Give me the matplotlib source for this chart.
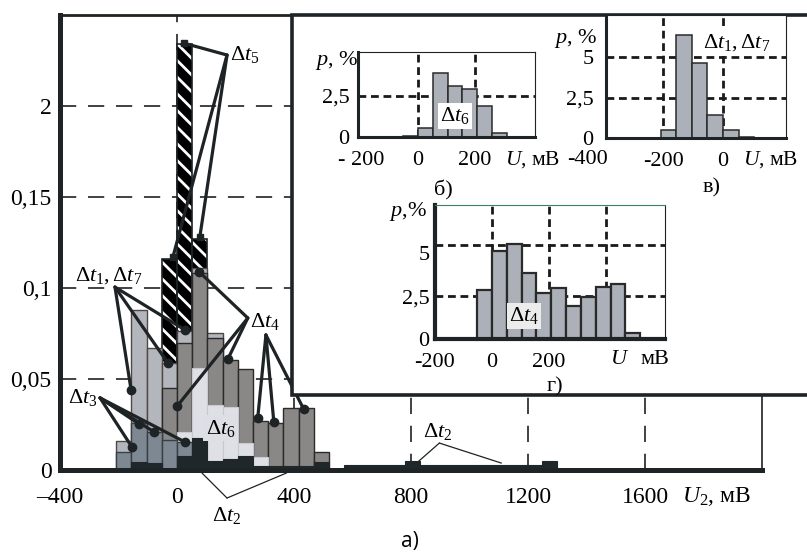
import matplotlib
matplotlib.use('Agg')
import matplotlib.pyplot as plt
from matplotlib.patches import Rectangle

plt.rcParams['font.family'] = ['Liberation Serif', 'DejaVu Serif']
plt.rcParams['mathtext.fontset'] = 'custom'
plt.rcParams['mathtext.rm'] = 'Liberation Serif'
plt.rcParams['mathtext.it'] = 'Liberation Serif:italic'
plt.rcParams['hatch.linewidth'] = 2.0

# ---- main histogram a), bins of 52 mV ----
bin_w = 52
u_left = [-208, -156, -104, -52, 0, 52, 104, 156, 208, 260, 312, 364, 416, 468]
p_dt5 = [0, 0, 0, 0.116, 0.234, 0.127, 0, 0, 0, 0, 0, 0, 0, 0]
p_dt17 = [0.0158, 0.088, 0.067, 0.059, 0.0765, 0.111, 0.0754, 0, 0, 0, 0, 0, 0, 0]
p_dt4 = [0, 0, 0, 0.045, 0.070, 0.108, 0.0727, 0.0607, 0.0557, 0.0268, 0.026, 0.034, 0.034, 0.0098]
p_dt6 = [0, 0, 0, 0, 0.0208, 0.056, 0.0355, 0.0345, 0.0148, 0.0071, 0, 0, 0, 0]
p_dt3 = [0.0098, 0.0257, 0.0208, 0.0164, 0.0153, 0, 0, 0, 0, 0, 0, 0, 0, 0]
p_dt2 = [0, 0.0044, 0.004, 0, 0.0077, 0.0175, 0.005, 0.006, 0.0077, 0.002, 0.002, 0.002, 0.002, 0.0044]
u_left_far = [520, 572, 624, 676, 728, 780, 832, 884, 936, 988, 1040, 1092, 1144, 1196, 1248]
p_dt2_far = [0, 0.003, 0.003, 0.003, 0.003, 0.005, 0.003, 0.003, 0.003, 0.003, 0.003, 0.003, 0.003, 0.003, 0.005]

x_ticks = [-400, 0, 400, 800, 1200, 1600]
x_labels = ['–400', '0', '400', '800', '1200', '1600']
y_ticks = [0, 0.05, 0.1, 0.15, 0.2]
y_labels = ['0', '0,05', '0,1', '0,15', '2']

# ---- insets ----
u_b = [-52, 0, 52, 104, 156, 208, 260]          # б) dt6
p_b = [0.06, 0.55, 3.9, 3.1, 2.93, 1.89, 0.24]
u_v = [-208, -156, -104, -52, 0, 52]            # в) dt1, dt7
p_v = [0.49, 6.36, 4.63, 1.42, 0.49, 0.06]
u_g = [-52, 0, 52, 104, 156, 208, 260, 312, 364, 416, 468]   # г) dt4
p_g = [2.85, 5.12, 5.51, 3.85, 2.66, 2.95, 1.94, 2.43, 3.04, 3.2, 0.37]

W, H = 807, 552
fig = plt.figure(figsize=(W / 100, H / 100), dpi=100)


def fx(px):
    return px / W


def fy(py):
    return 1 - py / H


def ftext(px, py, s, **kw):
    kw.setdefault('fontsize', 16)
    fig.text(fx(px), fy(py), s, ha='center', va='center', **kw)


ink = '#1e2326'
ax = fig.add_axes([fx(60), fy(470), 702 / W, 455 / H])
ax.set_xlim(-400, 2000)
ax.set_ylim(0, 0.25)

dash_main = (0, (9, 6.5))
for y in y_ticks[1:]:
    ax.axhline(y, color='#333333', lw=1.3, ls=dash_main, zorder=1)
for x in [0, 400, 800, 1200, 1600]:
    ax.axvline(x, color='#333333', lw=1.3, ls=dash_main, zorder=1)

# hatched dt5 at the back
ax.bar(u_left, p_dt5, width=bin_w, align='edge', color='black', edgecolor='white',
       hatch='\\\\', linewidth=0, zorder=2)
ax.bar(u_left, p_dt5, width=bin_w, align='edge', fill=False, edgecolor=ink, linewidth=1.2, zorder=2.1)
ax.bar(u_left, p_dt17, width=bin_w, align='edge', color='#b3b6bd', edgecolor='#4f4843', linewidth=1.0, zorder=3)
ax.bar(u_left, p_dt4, width=bin_w, align='edge', color='#8a8886', edgecolor='#2b2b2b', linewidth=1.0, zorder=4)
ax.bar(u_left, p_dt6, width=bin_w, align='edge', color='#dfe0e5', edgecolor='#c9cacf', linewidth=0.8, zorder=5)
ax.bar(u_left, p_dt3, width=bin_w, align='edge', color='#7d8893', edgecolor='#3a3f44', linewidth=1.0, zorder=6)
ax.bar(u_left, p_dt2, width=bin_w, align='edge', color='#20272a', edgecolor='#20272a', linewidth=0.8, zorder=7)
ax.bar(u_left_far, p_dt2_far, width=bin_w, align='edge', color='#20272a', edgecolor='#20272a',
       linewidth=0.8, zorder=7)

ax.set_xticks(x_ticks, x_labels)
ax.set_yticks(y_ticks, y_labels)
ax.tick_params(axis='x', length=0, labelsize=17, pad=12)
ax.tick_params(axis='y', length=0, labelsize=17, pad=6)
for side, lw in [('left', 3.6), ('bottom', 3.6), ('top', 2.0), ('right', 1.2)]:
    ax.spines[side].set_linewidth(lw)
    ax.spines[side].set_color(ink)
    ax.spines[side].set_zorder(8)


def pointer(origin, targets, marker='o', ms=6, lw=2.3):
    for tx, ty in targets:
        ax.plot([origin[0], tx], [origin[1], ty], color=ink, lw=lw, zorder=10,
                solid_capstyle='round', clip_on=False)
        if marker:
            ax.plot([tx], [ty], marker=marker, ms=ms, color=ink, zorder=11, clip_on=False)


pointer((171, 0.228), [(24, 0.2345), (-14, 0.117), (78, 0.128)], marker='s', ms=5)
ax.text(232, 0.2285, r'$\Delta t_5$', fontsize=16, ha='center', va='center', zorder=12)

pointer((-212, 0.1005), [(-157, 0.044), (-31, 0.0588), (27, 0.077)])
ax.text(-235, 0.107, r'$\Delta t_1, \Delta t_7$', fontsize=16, ha='center', va='center', zorder=12)

pointer((-263, 0.0396), [(-154, 0.0126), (-130, 0.0253), (-78, 0.0209), (27, 0.0154)])
ax.text(-321, 0.0396, r'$\Delta t_3$', fontsize=16, ha='center', va='center', zorder=12)

pointer((242, 0.0835), [(75, 0.109), (0, 0.035), (174, 0.061)])
pointer((304, 0.0742), [(276, 0.0286), (331, 0.0264), (433, 0.0335)])
ax.text(301, 0.0815, r'$\Delta t_4$', fontsize=16, ha='center', va='center', zorder=12)

ax.text(150, 0.023, r'$\Delta t_6$', fontsize=16, ha='center', va='center', zorder=12,
        bbox=dict(boxstyle='square,pad=0.12', fc='#dcdfe6', ec='none'))

pointer((171, -0.0154), [(85, -0.0016), (375, -0.0016)], marker=None, lw=0.9)
ax.text(171, -0.0252, r'$\Delta t_2$', fontsize=16, ha='center', va='center', clip_on=False)
pointer((897, 0.0148), [(819, 0.0038), (1109, 0.0038)], marker=None, lw=0.9)
ax.text(892, 0.0212, r'$\Delta t_2$', fontsize=16, ha='center', va='center', zorder=12)

ftext(717, 497, r'$U_2$, мВ', fontsize=17)
ftext(410, 541, 'а)', fontsize=15, family=['Open Sans', 'DejaVu Sans'])

# white frame holding the small histograms
fig.add_artist(Rectangle((fx(292), fy(395)), 1.05 - fx(292), fy(15) - fy(395),
                         transform=fig.transFigure, fc='white', ec=ink, lw=2.6, zorder=2))

dash_in = (0, (2.8, 1.7))


def small_hist(rect, lefts, heights, xlim, ylim, xt, xtl, yt, ytl, vgrid, hgrid,
               edge_lw=1.1, ypad=6, spine_lw=2.2):
    a = fig.add_axes(rect, zorder=3)
    a.set_xlim(*xlim)
    a.set_ylim(*ylim)
    for v in vgrid:
        a.axvline(v, color='#1a1a1a', lw=2.0, ls=dash_in, zorder=1)
    for h in hgrid:
        a.axhline(h, color='#1a1a1a', lw=2.0, ls=dash_in, zorder=1)
    a.bar(lefts, heights, width=bin_w, align='edge', color='#acb0b8', edgecolor='#2a2a2a',
          linewidth=edge_lw, zorder=2)
    a.set_xticks(xt, xtl)
    a.set_yticks(yt, ytl)
    a.tick_params(axis='x', length=0, labelsize=16, pad=10)
    a.tick_params(axis='y', length=0, labelsize=16, pad=ypad)
    a.spines['left'].set_linewidth(spine_lw)
    a.spines['bottom'].set_linewidth(spine_lw)
    a.spines['top'].set_linewidth(0.8)
    a.spines['right'].set_linewidth(0.8)
    for s in a.spines.values():
        s.set_color(ink)
        s.set_zorder(4)
    return a


ab = small_hist([fx(358), fy(137), 177 / W, 85 / H], u_b, p_b, (-210, 410), (0, 5.18),
                [-200, 0, 200], ['- 200', '0', '200'], [0, 2.5], ['0', '2,5'],
                [0, 200], [2.5])
ftext(337, 60, r'$p$, %')
ftext(533, 160, r'$U$, мВ', fontsize=15.5)
ftext(443, 190, 'б)')
ftext(455, 116, r'$\Delta t_6$', bbox=dict(boxstyle='square,pad=0.1', fc='white', ec='none'), zorder=5)

av = small_hist([fx(606), fy(138), 180 / W, 123 / H], u_v, p_v, (-390, 210), (0, 7.6),
                [-200, 0], ['-200', '0'], [0, 2.5, 5], ['0', '2,5', '5'],
                [-200, 0], [2.5, 5], ypad=9)
ftext(576, 38, r'$p$, %')
ftext(587, 160, '-400')
ftext(771, 160, r'$U$, мВ', fontsize=15.5)
ftext(712, 188, 'в)')
ftext(737, 43, r'$\Delta t_1, \Delta t_7$', bbox=dict(boxstyle='square,pad=0.1', fc='white', ec='none'), zorder=5)

ag = small_hist([fx(435), fy(339), 230 / W, 134 / H], u_g, p_g, (-200, 607), (0, 7.8),
                [-200, 0, 200], ['-200', '0', '200'], [0, 2.5, 5], ['0', '2,5', '5'],
                [0, 200, 400], [2.5, 5.5], edge_lw=1.6, ypad=4, spine_lw=3.0)
ag.spines['top'].set_color('#3d7f6b')
ftext(408, 212, r'$p$,%')
ftext(620, 360, r'$U$')
ftext(655, 360, 'мВ')
ftext(555, 387, 'г)')
ftext(524, 316, r'$\Delta t_4$', bbox=dict(boxstyle='square,pad=0.1', fc='#ececec', ec='none'), zorder=5)

fig.savefig('out.png', dpi=100)
